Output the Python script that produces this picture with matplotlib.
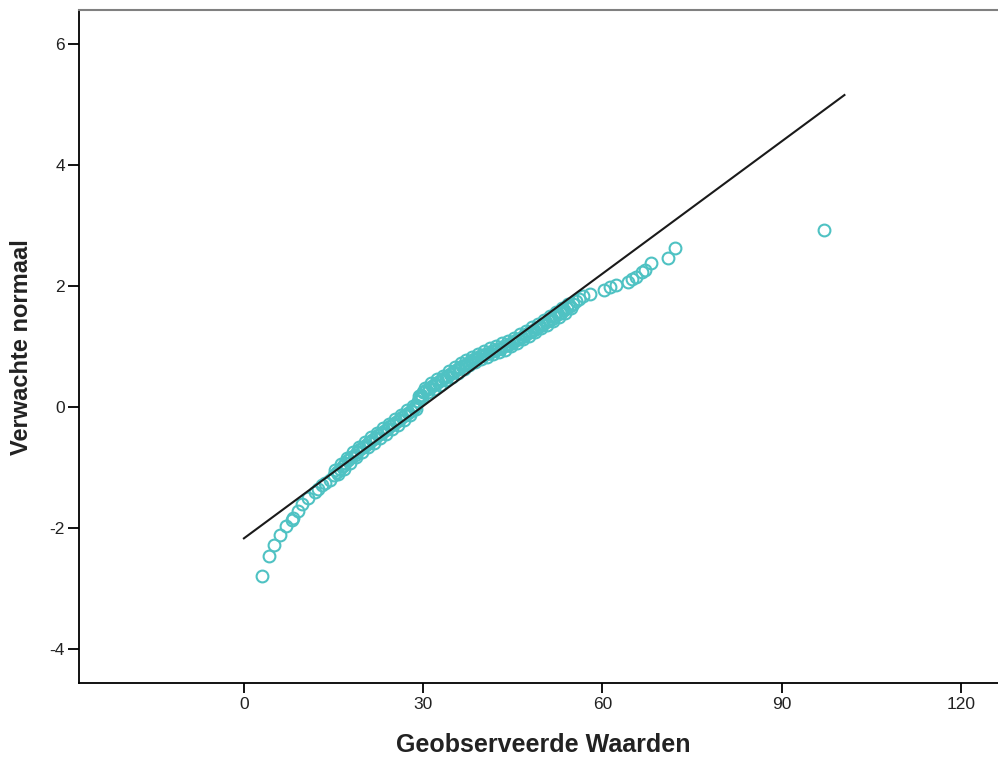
import numpy as np
import matplotlib
matplotlib.use("Agg")
import matplotlib.pyplot as plt

plt.rcParams['axes.unicode_minus'] = False

obs = [3.0, 4.2, 5.1, 6.1, 7.1, 8.1, 8.2, 9.0, 9.7, 10.8, 11.9, 12.4, 13.0, 13.6, 14.4,
       15.0, 15.5, 16.0, 16.6, 17.0, 17.5, 18.0, 18.6, 19.0, 19.5, 20.0, 20.5, 21.0, 21.5,
       22.0, 22.5, 23.0, 23.5, 24.0, 24.5, 25.0, 25.5, 26.0, 26.5, 27.0, 27.5, 28.0, 28.4,
       28.8, 29.1, 29.4, 29.7, 30.0, 30.5, 31.0, 31.5, 32.0, 32.5, 33.0, 33.5, 34.0, 34.5,
       35.0, 35.5, 36.0, 36.5, 37.0, 37.5, 38.0, 38.5, 39.0, 39.5, 40.0, 40.5, 41.0, 41.5,
       42.0, 42.5, 43.0, 43.5, 44.0, 44.5, 45.0, 45.5, 46.0, 46.5, 47.0, 47.5, 48.0, 48.5,
       49.0, 49.5, 50.0, 50.5, 51.0, 51.5, 52.0, 52.5, 53.0, 53.5, 54.0, 54.5, 55.0, 55.5,
       56.0, 56.8, 58.0, 60.3, 61.3, 62.3, 64.2, 65.0, 65.7, 66.7, 67.2, 68.1, 71.0, 72.1,
       97.0]
expected = [-2.79, -2.46, -2.28, -2.12, -1.97, -1.86, -1.84, -1.72, -1.60, -1.50, -1.40, -1.36,
            -1.29, -1.25, -1.20, -1.12, -1.08, -1.02, -0.98, -0.92, -0.88, -0.83, -0.79, -0.74,
            -0.70, -0.66, -0.63, -0.58, -0.55, -0.51, -0.47, -0.43, -0.40, -0.36, -0.32, -0.28,
            -0.25, -0.21, -0.17, -0.13, -0.10, -0.06, -0.02, 0.04, 0.10, 0.15, 0.20, 0.24, 0.28,
            0.31, 0.35, 0.38, 0.41, 0.45, 0.48, 0.51, 0.55, 0.58, 0.61, 0.64, 0.67, 0.70, 0.73,
            0.76, 0.79, 0.81, 0.84, 0.86, 0.88, 0.90, 0.92, 0.94, 0.96, 0.98, 1.00, 1.02, 1.04,
            1.07, 1.10, 1.13, 1.16, 1.19, 1.22, 1.25, 1.28, 1.31, 1.34, 1.37, 1.40, 1.43, 1.46,
            1.50, 1.53, 1.56, 1.60, 1.64, 1.67, 1.71, 1.75, 1.78, 1.83, 1.87, 1.93, 1.98, 2.02,
            2.06, 2.11, 2.15, 2.23, 2.27, 2.38, 2.47, 2.63, 2.93]

# more cases in the crowded middle: upper side of the band
obs_up = [15.25, 16.25, 17.25, 18.25, 19.25, 20.25, 21.25, 22.25, 23.25, 24.25, 25.25, 26.25,
          27.25, 28.25, 29.25, 30.25, 31.25, 32.25, 33.25, 34.25, 35.25, 36.25, 37.25, 38.25,
          39.25, 40.25, 41.25, 42.25, 43.25, 44.25, 45.25, 46.25, 47.25, 48.25, 49.25, 50.25,
          51.25, 52.25, 53.25, 54.25]
expected_up = [-1.04, -0.94, -0.84, -0.75, -0.66, -0.58, -0.50, -0.43, -0.35, -0.28, -0.20,
               -0.13, -0.05, 0.02, 0.18, 0.32, 0.39, 0.46, 0.52, 0.59, 0.66, 0.72, 0.78, 0.83,
               0.88, 0.93, 0.97, 1.01, 1.05, 1.09, 1.14, 1.20, 1.26, 1.32, 1.38, 1.44, 1.50,
               1.57, 1.64, 1.71]
# ... and lower side of the band
obs_lo = [15.75, 16.75, 17.75, 18.75, 19.75, 20.75, 21.75, 22.75, 23.75, 24.75, 25.75, 26.75,
          27.75, 28.75, 29.75, 30.75, 31.75, 32.75, 33.75, 34.75, 35.75, 36.75, 37.75, 38.75,
          39.75, 40.75, 41.75, 42.75, 43.75, 44.75, 45.75, 46.75, 47.75, 48.75, 49.75, 50.75,
          51.75, 52.75, 53.75, 54.75]
expected_lo = [-1.11, -1.02, -0.92, -0.83, -0.74, -0.66, -0.59, -0.51, -0.44, -0.36, -0.29,
               -0.21, -0.14, -0.03, 0.15, 0.24, 0.30, 0.37, 0.44, 0.50, 0.57, 0.63, 0.69, 0.74,
               0.79, 0.83, 0.87, 0.91, 0.95, 1.00, 1.06, 1.12, 1.18, 1.24, 1.30, 1.36, 1.42,
               1.49, 1.56, 1.63]

# reference line (mean / sd of the sample)
mean_val = 29.77
sd_val = 13.72
line_x = [0.0, 100.5]

xticks = [0, 30, 60, 90, 120]
yticks = [-4, -2, 0, 2, 4, 6]

fig = plt.figure(figsize=(9.98, 7.6), dpi=100)
ax = fig.add_axes([79/998, 1 - 683/760, 1 - 79/998, (683 - 10)/760])

xs = obs + obs_up + obs_lo
ys = expected + expected_up + expected_lo

lx = np.array(line_x)
ax.plot(lx, (lx - mean_val)/sd_val, color='#1a1a1a', lw=1.5, zorder=3)
ax.plot(xs, ys, linestyle='none', marker='o', markersize=8.5,
        markerfacecolor='none', markeredgecolor='#4fc2c3', markeredgewidth=1.5, zorder=2)

ax.set_xlim(-27.6, 126.2)
ax.set_ylim(-4.56, 6.56)
ax.set_xticks(xticks)
ax.set_yticks(yticks)
ax.tick_params(axis='both', direction='out', width=1.3, color='black',
               labelsize=12.5, labelcolor='#222222')
ax.tick_params(axis='x', length=7, pad=3)
ax.tick_params(axis='y', length=8, pad=2)
for lab in ax.get_xticklabels() + ax.get_yticklabels():
    lab.set_family('Liberation Sans')

ax.spines['right'].set_visible(False)
ax.spines['top'].set_color('#808080')
ax.spines['top'].set_linewidth(1.5)
ax.spines['left'].set_linewidth(1.3)
ax.spines['bottom'].set_linewidth(1.3)

fig.text(543/998, 1 - 745/760, 'Geobserveerde Waarden', ha='center', va='center',
         fontsize=18, fontweight='bold', family='Liberation Sans', color='#222222')
fig.text(22/998, 1 - 347/760, 'Verwachte normaal', ha='center', va='center', rotation=90,
         fontsize=17, fontweight='bold', family='Liberation Sans', color='#222222')

fig.savefig('out.png', dpi=100)
